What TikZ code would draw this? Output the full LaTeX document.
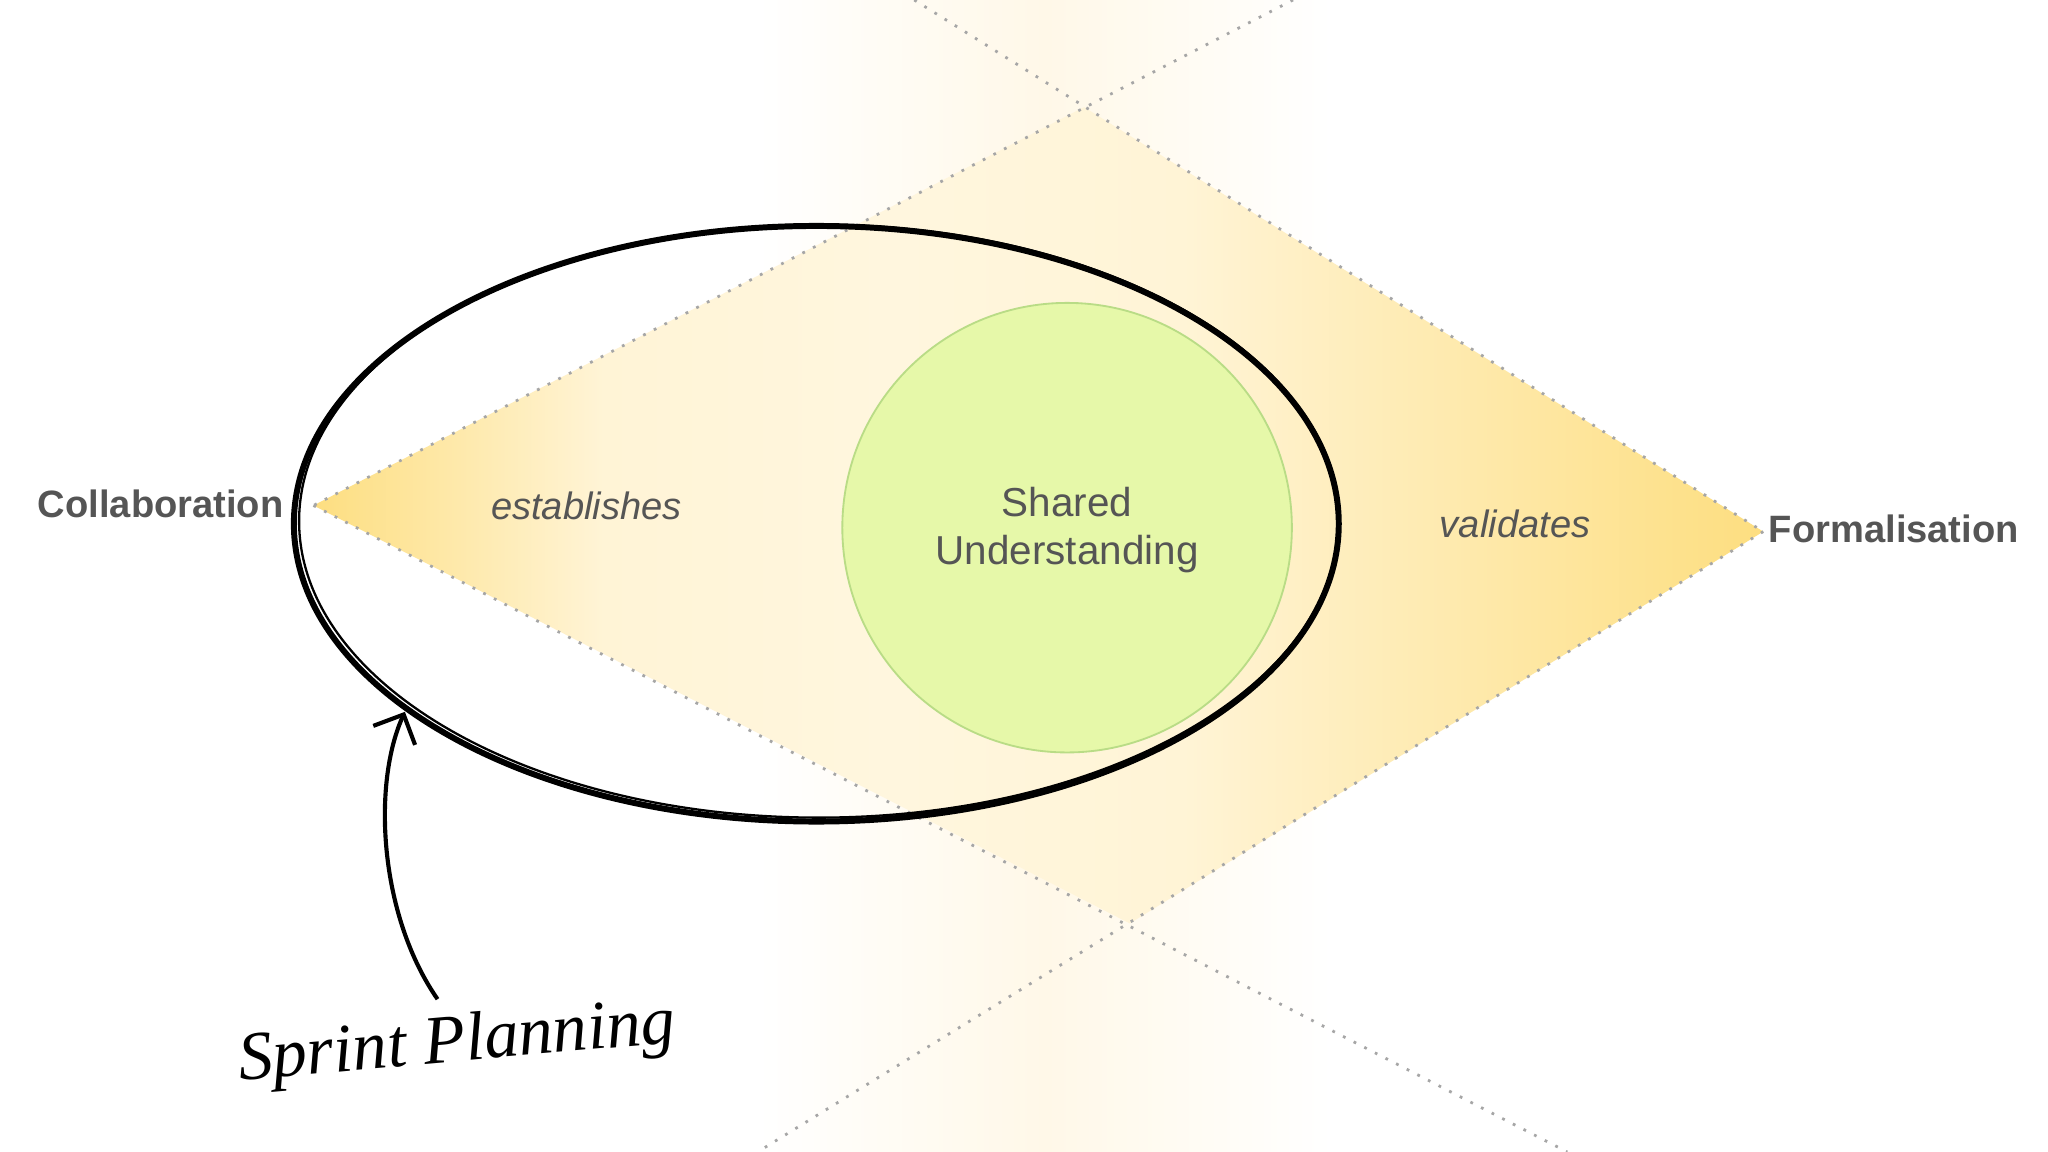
\documentclass[tikz,border=0pt]{standalone}
\usepackage{fontspec}
\setmainfont{Liberation Sans}
\newfontfamily\handfont{Liberation Serif}
\usetikzlibrary{arrows.meta}
\definecolor{gold}{HTML}{FDDE80}
\definecolor{pale}{HTML}{FFF4D6}
\definecolor{band}{HTML}{FFF8E8}
\definecolor{txt}{HTML}{555555}
\definecolor{leaf}{HTML}{E6F8A9}
\definecolor{leafline}{HTML}{B9DC86}
\pgfdeclarehorizontalshading{diam}{100bp}{color(0bp)=(gold); color(25bp)=(gold); color(35bp)=(pale); color(45bp)=(pale!80!white); color(55bp)=(pale); color(75bp)=(gold); color(100bp)=(gold)}
\pgfdeclarehorizontalshading{bandsh}{100bp}{color(0bp)=(white); color(25bp)=(white); color(50bp)=(band); color(75bp)=(white); color(100bp)=(white)}
\tikzset{
  guide/.style={gray!70, dotted, line width=0.6pt},
  lbl/.style={text=txt, font=\bfseries\fontsize{8.3}{9}\selectfont},
  verb/.style={text=txt, font=\itshape\fontsize{8.3}{9}\selectfont},
}
\begin{document}
\begin{tikzpicture}[x=0.01cm,y=-0.01cm]
\useasboundingbox (0,0) rectangle (1568,882);
\fill[white] (0,0) rectangle (1568,882);
\shade[shading=bandsh] (580,0) rectangle (1020,882);
\coordinate (L) at (240,387);
\coordinate (R) at (1350,407);
\coordinate (T) at (830,82);
\coordinate (B) at (865,707);
\shade[shading=diam] (L) -- (T) -- (R) -- (B) -- cycle;
\draw[guide] (990,0) -- (L);
\draw[guide] (700,0) -- (R);
\draw[guide] (L) -- (1200,882);
\draw[guide] (R) -- (580,882);
\node[circle, draw=leafline, fill=leaf, inner sep=0pt, minimum size=3.44cm] (su) at (817,404) {};
\node[text=txt, align=center, font=\fontsize{8.8}{10.5}\selectfont] at (817,406) {Shared\\Understanding};
\draw[black, line width=1.3pt] (625,401) ellipse [x radius=400, y radius=228];
\draw[black, line width=0.5pt] (627,399) ellipse [x radius=398, y radius=227];
\node[lbl] (col) at (123,386) {Collaboration};
\node[lbl] (for) at (1450,405) {Formalisation};
\node[verb] at (449,387) {establishes};
\node[verb] at (1160,401) {validates};
\node[rotate=5, font=\handfont\itshape\fontsize{15}{17}\selectfont] (sp) at (350,800) {Sprint Planning};
\coordinate (tip) at (310,545);
\draw[-{Straight Barb[length=5pt]}, line width=0.9pt] (335,765) .. controls (290,700) and (285,600) .. (tip);
\end{tikzpicture}
\end{document}
